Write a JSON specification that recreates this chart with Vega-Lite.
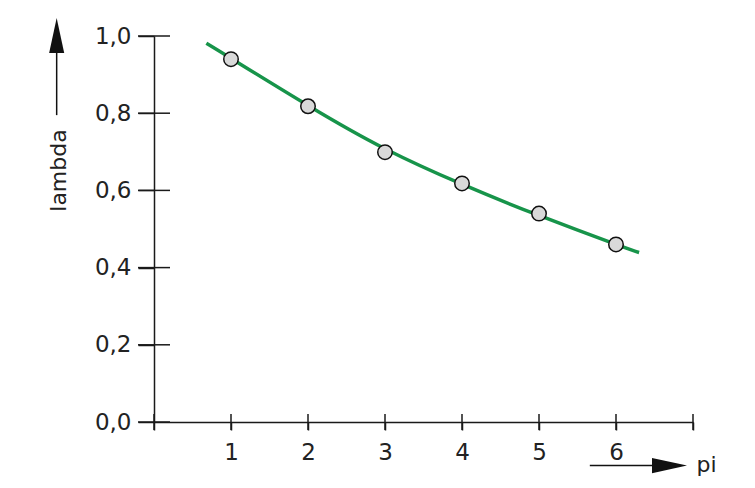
{
  "$schema": "https://vega.github.io/schema/vega-lite/v6.json",
  "width": 539,
  "height": 386,
  "autosize": "none",
  "padding": {"left": 154, "top": 36, "right": 62, "bottom": 66},
  "background": "white",
  "config": {"view": {"stroke": null}, "font": "DejaVu Sans"},
  "datasets": {
    "points": [
      {"pi": 1, "lambda": 0.94},
      {"pi": 2, "lambda": 0.818},
      {"pi": 3, "lambda": 0.699},
      {"pi": 4, "lambda": 0.618},
      {"pi": 5, "lambda": 0.54},
      {"pi": 6, "lambda": 0.46}
    ],
    "curve": [
      {"pi": 0.68, "lambda": 0.981},
      {"pi": 1, "lambda": 0.942},
      {"pi": 2, "lambda": 0.82},
      {"pi": 3, "lambda": 0.708},
      {"pi": 4, "lambda": 0.616},
      {"pi": 5, "lambda": 0.535},
      {"pi": 6, "lambda": 0.46},
      {"pi": 6.3, "lambda": 0.439}
    ],
    "xticks": [{"pi": 0}, {"pi": 1}, {"pi": 2}, {"pi": 3}, {"pi": 4}, {"pi": 5}, {"pi": 6}, {"pi": 7}],
    "yticks": [{"lambda": 0}, {"lambda": 0.2}, {"lambda": 0.4}, {"lambda": 0.6}, {"lambda": 0.8}, {"lambda": 1}]
  },
  "layer": [
    {
      "data": {"name": "curve"},
      "mark": {"type": "line", "color": "#17944a", "strokeWidth": 3.5, "interpolate": "natural"},
      "encoding": {
        "x": {
          "field": "pi", "type": "quantitative",
          "scale": {"domain": [0, 7], "nice": false, "zero": false},
          "axis": {
            "values": [0, 1, 2, 3, 4, 5, 6, 7],
            "labelExpr": "datum.value >= 1 && datum.value <= 6 ? format(datum.value, 'd') : ''",
            "labelOverlap": false, "labelFlush": false,
            "grid": false,
            "tickSize": 8, "tickWidth": 1.5, "tickColor": "#1a1a1a",
            "domainWidth": 1.5, "domainColor": "#1a1a1a",
            "labelFontSize": 23, "labelPadding": 11, "labelColor": "#222",
            "title": "pi", "titleFontSize": 22, "titleFontWeight": "normal", "titleColor": "#222",
            "titleX": 542, "titleY": 49, "titleAlign": "left", "titleBaseline": "alphabetic"
          }
        },
        "y": {
          "field": "lambda", "type": "quantitative",
          "scale": {"domain": [0, 1], "nice": false, "zero": false},
          "axis": {
            "values": [0, 0.2, 0.4, 0.6, 0.8, 1],
            "labelExpr": "replace(format(datum.value, '.1f'), '.', ',')",
            "labelOverlap": false,
            "grid": false,
            "tickSize": 16, "tickWidth": 1.5, "tickColor": "#1a1a1a",
            "domainWidth": 1.5, "domainColor": "#1a1a1a",
            "labelFontSize": 23, "labelPadding": 7, "labelColor": "#222",
            "title": "lambda", "titleFontSize": 22, "titleFontWeight": "normal", "titleColor": "#222",
            "titleAngle": 270, "titleX": -89, "titleY": 134, "titleAlign": "center", "titleBaseline": "alphabetic"
          }
        }
      }
    },
    {
      "data": {"name": "xticks"},
      "mark": {"type": "tick", "orient": "vertical", "color": "#1a1a1a", "thickness": 1.5, "size": 16, "opacity": 1},
      "encoding": {
        "x": {"field": "pi", "type": "quantitative"},
        "y": {"datum": 0}
      }
    },
    {
      "data": {"name": "yticks"},
      "mark": {"type": "tick", "orient": "horizontal", "color": "#1a1a1a", "thickness": 1.5, "size": 32, "opacity": 1},
      "encoding": {
        "y": {"field": "lambda", "type": "quantitative"},
        "x": {"datum": 0}
      }
    },
    {
      "data": {"name": "points"},
      "mark": {"type": "point", "shape": "circle", "filled": true, "fill": "#d9d9d9", "stroke": "#111", "strokeWidth": 1.5, "size": 210, "opacity": 1},
      "encoding": {
        "x": {"field": "pi", "type": "quantitative"},
        "y": {"field": "lambda", "type": "quantitative"}
      }
    },
    {
      "data": {"values": [{}]},
      "mark": {"type": "rule", "color": "#111", "strokeWidth": 1.5},
      "encoding": {
        "x": {"datum": -1.264},
        "y": {"datum": 0.795},
        "y2": {"datum": 0.96}
      }
    },
    {
      "data": {"values": [{}]},
      "mark": {"type": "point", "shape": "M0,-1L0.43,1L-0.43,1Z", "filled": true, "color": "#111", "size": 1225, "opacity": 1, "strokeWidth": 0},
      "encoding": {
        "x": {"datum": -1.264},
        "y": {"datum": 1.001}
      }
    },
    {
      "data": {"values": [{}]},
      "mark": {"type": "rule", "color": "#111", "strokeWidth": 1.5},
      "encoding": {
        "x": {"datum": 5.66},
        "x2": {"datum": 6.5},
        "y": {"datum": -0.113}
      }
    },
    {
      "data": {"values": [{}]},
      "mark": {"type": "point", "shape": "M1,0L-1,-0.43L-1,0.43Z", "filled": true, "color": "#111", "size": 1225, "opacity": 1, "strokeWidth": 0},
      "encoding": {
        "x": {"datum": 6.695},
        "y": {"datum": -0.113}
      }
    }
  ]
}
